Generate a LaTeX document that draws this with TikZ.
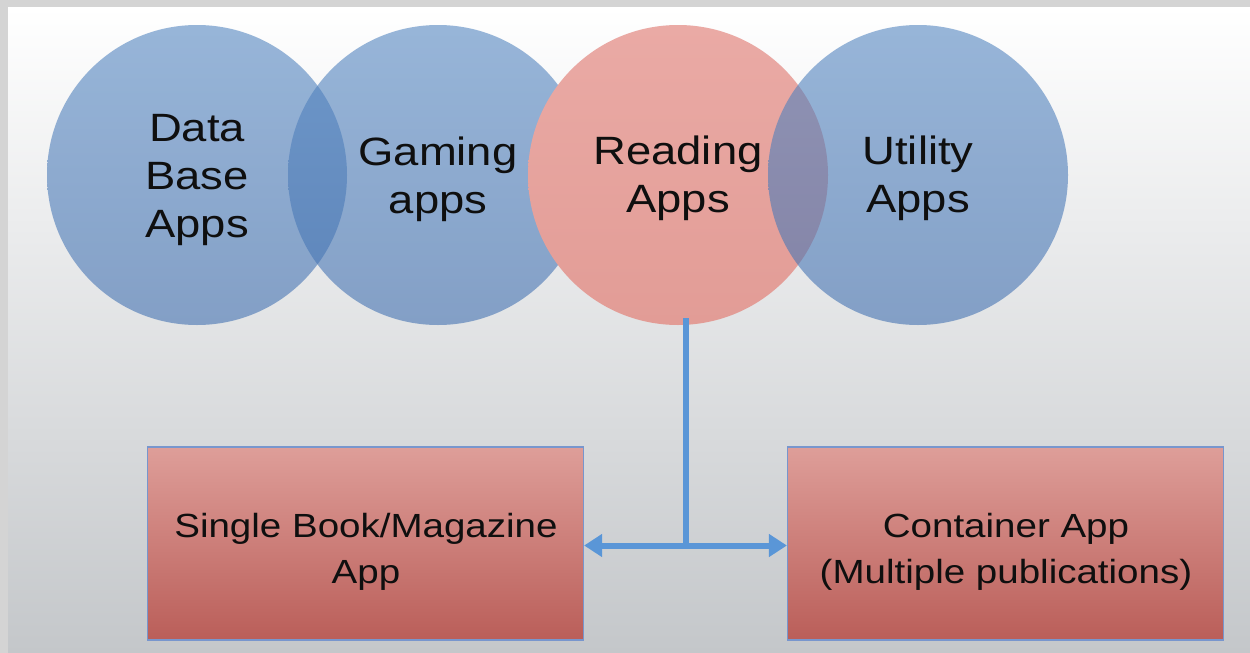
\documentclass[tikz,border=0pt]{standalone}
\usepackage{fontspec}
\setmainfont{Liberation Sans}
\newfontfamily\widefont[FakeStretch=1.15]{Liberation Sans}
\usetikzlibrary{arrows.meta}
\definecolor{framegray}{RGB}{212,212,212}
\definecolor{bgmid}{RGB}{240,240,240}
\definecolor{bgbot}{RGB}{196,199,202}
\definecolor{blueT}{RGB}{84,134,192}
\definecolor{blueB}{RGB}{68,114,178}
\definecolor{pinkT}{RGB}{234,170,165}
\definecolor{pinkB}{RGB}{226,156,150}
\definecolor{boxT}{RGB}{222,158,153}
\definecolor{boxB}{RGB}{186,94,89}
\definecolor{boxline}{RGB}{120,150,205}
\definecolor{conn}{RGB}{90,150,215}
\definecolor{ink}{RGB}{15,15,15}
\tikzset{
  bcirc/.style={circle, minimum size=300pt, inner sep=0pt, top color=blueT, bottom color=blueB,
    fill opacity=0.6},
  pcirc/.style={circle, minimum size=300pt, inner sep=0pt, top color=pinkT, bottom color=pinkB},
  ctext/.style={align=center, text=ink, inner sep=0pt, font=\widefont\fontsize{39.5}{48}\selectfont},
  rbox/.style={rectangle, minimum width=436pt, minimum height=193pt, inner sep=0pt,
    draw=boxline, line width=1.2pt, top color=boxT, bottom color=boxB},
  btext/.style={align=center, text=ink, inner sep=0pt, font=\widefont\fontsize{33.5}{46}\selectfont},
  connline/.style={draw=conn, line width=6pt}
}
\begin{document}
\begin{tikzpicture}[x=1pt,y=-1pt]
\useasboundingbox (0,0) rectangle (1250,653);
% background
\shade[top color=white, middle color=bgmid, bottom color=bgbot] (8,7) rectangle (1250,653);
\fill[framegray] (0,0) rectangle (1250,7);
\fill[framegray] (0,0) rectangle (8,653);
% circles
\node[bcirc] (db) at (197,175) {};
\node[bcirc] (gaming) at (438,175) {};
\node[pcirc] (reading) at (678,175) {};
\node[bcirc] (utility) at (918,175) {};
\node[ctext] (dbtext) at ([yshift=-5pt]db.center) {Data\\Base\\Apps};
\node[ctext] (gamingtext) at ([yshift=-4pt]gaming.center) {Gaming\\apps};
\node[ctext] (readingtext) at ([yshift=-3pt]reading.center) {Reading\\Apps};
\node[ctext] (utilitytext) at ([yshift=-3pt]utility.center) {Utility\\Apps};
% boxes
\node[rbox] (single) at (365.5,543.5) {};
\node[rbox] (container) at (1005.5,543.5) {};
\node[btext] (singletext) at (366,552) {Single Book/Magazine\\App};
\node[btext] (containertext) at (1006,552) {Container App\\(Multiple publications)};
% connector
\coordinate (j) at (685.5,545.5);
\draw[connline] ([yshift=7pt]reading.south -| j) -- ([yshift=-3pt]j);
\draw[connline, {Triangle[length=18pt,width=22pt]}-{Triangle[length=18pt,width=22pt]}] (single.east |- j) -- (container.west |- j);
\end{tikzpicture}
\end{document}
